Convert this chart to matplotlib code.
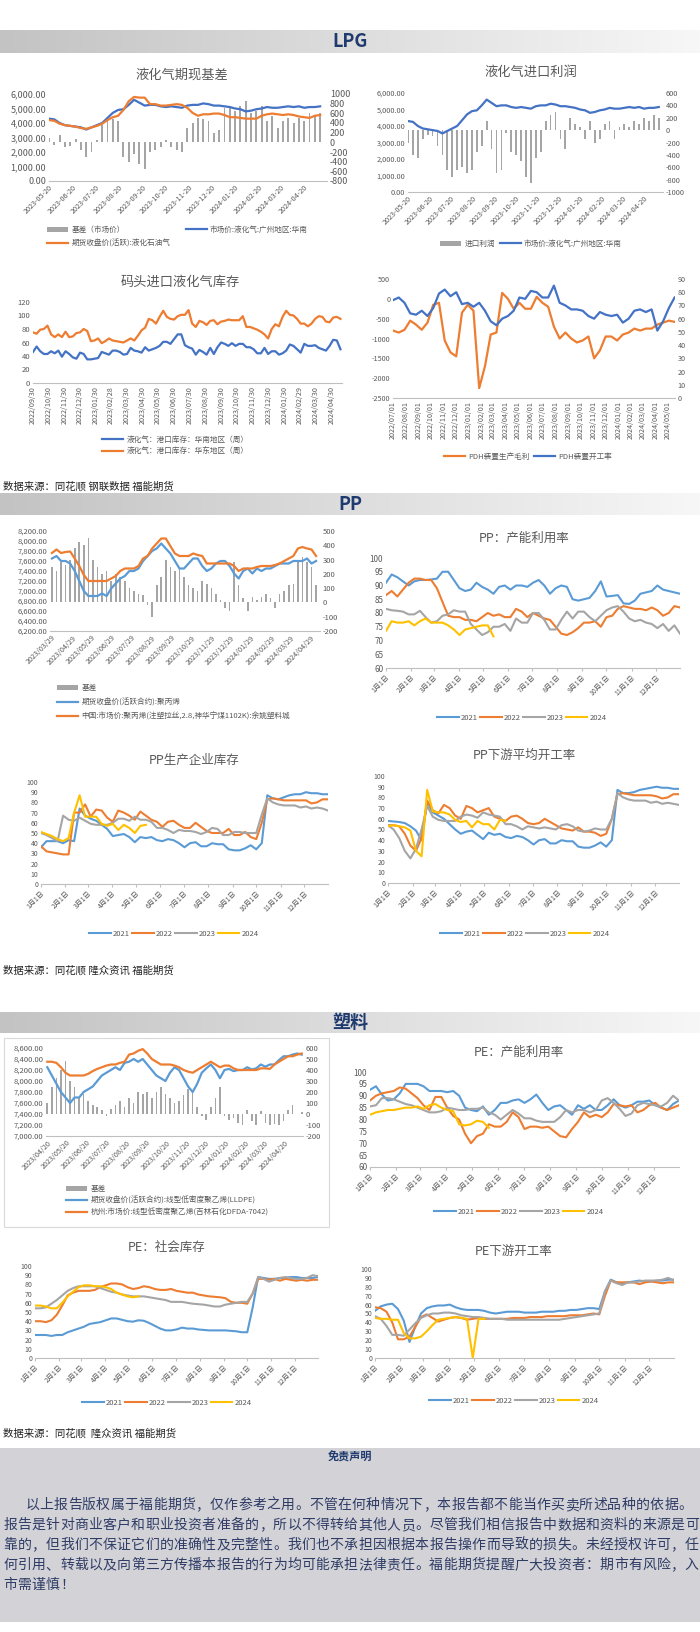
import numpy as np
import pandas as pd
import matplotlib
matplotlib.use('Agg')
import matplotlib.pyplot as plt
from matplotlib.colors import LinearSegmentedColormap
from matplotlib.patches import Rectangle
from matplotlib.ticker import FuncFormatter

plt.rcParams['font.family'] = ['Noto Sans CJK SC', 'DejaVu Sans']
plt.rcParams['axes.unicode_minus'] = False
plt.rcParams['axes.facecolor'] = 'none'

# ====== 数据 ======
# LPG 期现基差 / 进口利润 (周度, 2023-05-20 起)
lpg_spot = [4300, 4250, 4000, 3850, 3800, 3750, 3700, 3550, 3700, 3850, 4000, 4350, 4700, 4900, 4950, 5250,
            5600, 5400, 5200, 5250, 5250, 5150, 5100, 5150, 5100, 5050, 5200, 5250, 5250, 5350, 5300, 5200,
            5200, 5150, 5100, 5000, 4950, 4800, 4850, 4950, 5000, 5100, 5050, 5050, 5100, 5150, 5100, 5150,
            5050, 5100, 5100, 5150]
lpg_fut = [4200, 4150, 3950, 3850, 3800, 3750, 3650, 3600, 3700, 3800, 3950, 4200, 4400, 4500, 4900, 5500,
           5800, 5750, 5750, 5300, 5300, 5200, 5200, 5250, 5300, 5250, 5050, 4700, 4500, 4600, 4600, 4650,
           4650, 4550, 4400, 4400, 4350, 4300, 4300, 4300, 4500, 4600, 4650, 4600, 4550, 4600, 4550, 4450,
           4400, 4350, 4500, 4550]
lpg_basis = [80, -60, 150, -100, -80, 60, -150, -300, -200, 50, 350, 450, 480, 450, -300, -400, -250, -450,
             -550, -200, -150, -100, 50, -100, -150, -200, 300, 400, 500, 480, 450, 200, 250, 700, 700, 650,
             750, 850, 600, 650, 750, 450, 550, 300, 450, 500, 400, 500, 450, 600, 550, 600]
lpg_profit = [-200, -400, -450, -150, -80, -100, -250, -400, -650, -750, -650, -600, -700, -650, -350, -250,
              150, -300, -700, -650, -50, -350, -400, -500, -750, -850, -450, -350, 150, 250, 300, -150, -300,
              200, 100, 50, -150, 150, -200, -150, 100, 150, -150, 50, 100, 50, 150, 100, 200, 150, 250, 200]

# 码头库存 (周度, 2022-09-30 起)
lpg_inv_south = [46, 54, 47, 43, 43, 47, 44, 48, 39, 47, 43, 38, 36, 45, 43, 35, 35, 36, 37, 46,
                 44, 42, 48, 48, 46, 42, 43, 52, 48, 47, 45, 53, 48, 50, 52, 55, 61, 61, 58, 65,
                 72, 72, 56, 53, 51, 42, 49, 46, 42, 52, 43, 53, 60, 58, 55, 59, 55, 58, 58, 53,
                 53, 50, 44, 44, 52, 43, 47, 47, 42, 44, 48, 57, 55, 50, 45, 58, 55, 55, 56, 52,
                 50, 48, 55, 64, 63, 50]
lpg_inv_east = [75, 73, 79, 80, 85, 72, 68, 72, 68, 76, 68, 69, 74, 75, 80, 77, 62, 63, 66, 59,
                62, 66, 63, 62, 61, 60, 63, 66, 63, 70, 78, 82, 95, 93, 88, 98, 107, 98, 95, 94,
                99, 101, 101, 108, 88, 83, 92, 90, 86, 92, 93, 87, 91, 92, 94, 93, 93, 93, 99, 83,
                83, 81, 79, 76, 72, 66, 80, 87, 84, 98, 107, 101, 100, 95, 88, 88, 84, 88, 95, 99,
                98, 91, 90, 97, 98, 95]

# PDH (双周, 2022-07-01 起)
pdh_margin = [-800, -850, -780, -550, -650, -780, -600, -150, -100, -1050, -1350, -1450, -350, -150, -300,
              -2250, -1700, -900, -850, 150, 0, -250, -100, -250, -250, 50, -100, -200, -700, -1000,
              -850, -1000, -1100, -1050, -950, -1500, -1300, -950, -950, -1050, -900, -850, -750, -800,
              -750, -750, -650, -600, -550, -580]
pdh_rate = [74, 76, 72, 64, 63, 66, 62, 68, 79, 82, 77, 80, 71, 72, 69, 72, 66, 58, 55, 60,
            62, 66, 76, 75, 81, 80, 76, 76, 85, 72, 70, 67, 67, 66, 62, 60, 65, 63, 62, 63,
            57, 60, 66, 67, 65, 67, 51, 58, 68, 76]

# PP 基差 (周度, 2023-03-29 起)
pp_spot = [7760, 7830, 7760, 7780, 7790, 7650, 7500, 7320, 7200, 7200, 7200, 7200, 7200, 7250, 7300,
           7400, 7450, 7450, 7450, 7500, 7650, 7700, 7850, 7950, 8050, 8050, 7900, 7750, 7700, 7700,
           7700, 7750, 7720, 7700, 7550, 7550, 7550, 7550, 7550, 7550, 7500, 7400, 7450, 7450, 7450,
           7480, 7500, 7500, 7500, 7520, 7550, 7600, 7650, 7700, 7850, 7880, 7850, 7830, 7700]
pp_fut = [7650, 7700, 7600, 7600, 7550, 7400, 7200, 7000, 6900, 6900, 6900, 6950, 6900, 7050, 7150,
          7250, 7300, 7400, 7400, 7450, 7600, 7700, 7800, 7850, 7950, 7850, 7750, 7600, 7450, 7450,
          7550, 7650, 7650, 7500, 7400, 7450, 7550, 7600, 7600, 7500, 7350, 7250, 7400, 7450, 7350,
          7450, 7400, 7450, 7450, 7500, 7550, 7550, 7550, 7600, 7600, 7600, 7650, 7550, 7600]
pp_basis = [250, 220, 280, 260, 300, 380, 420, 400, 450, 300, 250, 200, 220, 150, 200, 180, 150, 100,
            80, 60, 50, -20, -100, 120, 180, 300, 250, 220, 250, 180, 120, 100, 80, 150, 130, 100, 60,
            20, -40, -60, 280, 120, 30, -60, 40, 20, 40, 60, 30, -40, 60, 80, 120, 130, 300, 320, 280,
            250, 120]

# 季节性图 (周度)
years = ['2021', '2022', '2023', '2024']
pp_util = [
    [91, 94, 93, 91.5, 90, 91.5, 92, 92, 92.2, 92.5, 95, 95, 92, 89, 88, 88.5, 91, 89.5, 88.5, 87,
     89.5, 90, 88.5, 90, 90, 89.5, 91, 92, 90, 87, 89, 90, 89.5, 85, 84.5, 85, 85.5, 88, 91.5, 86,
     86.2, 86.5, 83.5, 83.3, 84.5, 87, 87.5, 88, 90, 88.5, 88, 87.5, 87],
    [86.5, 88, 86, 88.5, 91, 92.5, 92.5, 92, 92, 89, 84, 79, 78.5, 78.5, 77.5, 77.5, 77, 78.5, 80, 79,
     79.5, 78.5, 78.5, 81.5, 80.5, 78.5, 80, 79, 78, 77.5, 75, 72.5, 72, 73, 74.5, 76.5, 76.5, 77, 75,
     78.5, 79, 81.5, 82.5, 82, 81.5, 81.5, 81, 82, 81, 79, 80, 82.5, 82],
    [81.5, 81, 80.8, 80.5, 79.5, 79.5, 80.8, 78.5, 76.5, 77, 79, 79.5, 81, 80.5, 80.5, 76, 74, 72, 73,
     75, 75, 76, 73.5, 78, 76.5, 76.5, 80, 80, 77.5, 74, 74, 77.5, 80.5, 78, 80.5, 80.5, 78.5, 77, 79,
     81, 82, 82.5, 80.5, 78, 77, 77.5, 76.5, 76, 74.5, 76, 73.5, 75.5, 72.5],
    [73.5, 77, 76.5, 76.5, 77, 75.5, 77, 78, 76.5, 76.5, 76.5, 75.5, 74, 72, 74, 74.5, 75, 75.5, 75.5,
     71.5]]
pp_inv = [
    [36, 42, 42, 42, 40, 43, 42, 74, 67, 64, 62, 58, 54, 47, 48, 49, 46, 41, 46, 45, 46, 43, 42, 44, 43,
     40, 36, 40, 41, 37, 37, 40, 39, 39, 34, 33, 33, 35, 38, 34, 40, 87, 84, 83, 85, 87, 88, 88, 90, 89,
     89, 88, 88],
    [37, 32, 31, 30, 29, 29, 70, 70, 78, 66, 73, 72, 65, 61, 72, 70, 67, 63, 71, 67, 63, 61, 56, 61, 62,
     58, 55, 55, 60, 56, 52, 50, 50, 50, 54, 48, 48, 51, 46, 44, 60, 83, 84, 83, 82, 82, 82, 82, 82, 79,
     80, 83, 83],
    [50, 48, 45, 42, 67, 63, 62, 65, 62, 59, 58, 58, 58, 60, 64, 64, 62, 66, 63, 63, 61, 55, 55, 53, 50,
     53, 52, 52, 51, 49, 51, 55, 54, 48, 48, 51, 51, 50, 50, 50, 68, 84, 80, 78, 77, 77, 77, 75, 76, 74,
     75, 74, 72],
    [51, 49, 47, 44, 42, 45, 70, 87, 66, 66, 66, 59, 57, 59, 53, 58, 55, 50, 57, 58]]
pp_run = [
    [58, 57.5, 57, 56, 53, 49, 40, 76, 66, 63, 60, 55, 50, 46, 48, 49, 45, 41, 47, 45, 46, 43, 42, 44, 43,
     40, 36, 40, 41, 37, 37, 40, 39, 39, 34, 33, 33, 35, 38, 34, 40, 87, 84, 84, 85, 87, 88, 89, 90, 89,
     89, 88, 88],
    [54, 54, 53, 46, 35, 30, 42, 77, 68, 65, 73, 70, 63, 60, 72, 70, 66, 68, 70, 62, 60, 58, 62, 63, 60,
     56, 55, 56, 60, 57, 54, 51, 50, 49, 52, 48, 48, 47, 44, 46, 60, 83, 84, 83, 82, 82, 82, 82, 81, 79,
     80, 83, 83],
    [54, 50, 42, 30, 23, 32, 50, 72, 62, 59, 58, 58, 58, 62, 64, 63, 61, 66, 64, 63, 62, 55, 55, 53, 50,
     53, 52, 51, 52, 51, 50, 54, 55, 53, 49, 48, 49, 51, 50, 50, 60, 84, 80, 78, 77, 77, 77, 75, 76, 74,
     75, 74, 73],
    [53, 54, 53, 52, 49, 30, 25, 87, 67, 66, 66, 64, 59, 57, 58, 52, 58, 55, 55, 50, 59, 58]]

# PE 基差 (周度, 2023-04-20 起)
pe_spot = [8350, 8350, 8330, 8250, 8150, 8100, 8100, 8100, 8100, 8130, 8180, 8220, 8250, 8280, 8300,
           8300, 8330, 8350, 8480, 8500, 8550, 8580, 8500, 8400, 8350, 8300, 8300, 8300, 8280, 8250,
           8200, 8170, 8150, 8200, 8250, 8300, 8350, 8300, 8250, 8280, 8280, 8230, 8200, 8200, 8200,
           8200, 8200, 8230, 8230, 8220, 8300, 8350, 8400, 8450, 8450, 8480, 8500]
pe_fut = [8250, 8100, 7950, 7800, 7700, 7600, 7700, 7700, 7800, 7850, 7900, 8000, 8100, 8150, 8200,
          8250, 8200, 8330, 8350, 8400, 8350, 8400, 8300, 8200, 8100, 8050, 8000, 8150, 8250, 8200,
          8050, 7900, 7800, 7950, 8150, 8230, 8300, 8200, 8050, 8200, 8220, 8180, 8200, 8200, 8250,
          8210, 8230, 8300, 8260, 8300, 8300, 8380, 8450, 8450, 8480, 8500, 8480]
pe_basis = [100, 250, 330, 400, 480, 300, 250, 150, 180, 120, 80, 60, 40, -20, 50, 80, 120, 60, 150, 100,
            200, 180, 200, 150, 200, 250, 180, 150, 100, 120, 170, 230, 220, 60, -20, -50, 60, 150, 250,
            -20, -50, -40, -80, -100, 40, -60, -100, 30, -80, -100, -90, -100, -60, 40, 80, 0, 20]

pe_util = [
    [92.5, 94, 90.5, 88, 88.5, 91, 95, 95, 95, 94, 92, 92, 92, 91.5, 92, 90, 85, 84, 83.5, 85.5, 82, 84,
     87, 87, 88, 88.5, 87, 88.5, 90.5, 87, 84, 85.5, 86, 84, 82, 86, 84.5, 86, 84, 84, 86, 88.5, 86, 85,
     86, 87.5, 87.5, 88, 86, 85, 84, 86.5, 88],
    [88, 90, 91, 91.5, 92, 93.5, 93, 91, 89, 86, 84, 89.5, 89.5, 85, 81.5, 80, 74, 70, 73, 74, 78, 77,
     77, 79, 83, 81, 76, 77, 77, 76.5, 77, 75, 73, 72.5, 76, 79, 83, 81, 82, 81, 83, 86.5, 86, 85.5, 86,
     83, 84, 86, 87, 85, 84, 85, 86],
    [85.5, 86, 89, 89, 88.5, 87.5, 86.5, 86, 85, 84, 83, 83, 83.5, 85, 84.5, 84, 84, 84.5, 84.5, 85, 83,
     82, 80, 82, 84, 82.5, 80.5, 80.5, 79.5, 79, 79, 79, 81, 84, 83, 84, 84, 83, 84, 88, 89, 87, 84.5,
     81.5, 82.5, 86, 87, 86.5, 86, 85.5, 87, 90, 88],
    [82, 83, 83.5, 84, 84, 84.5, 85, 85, 85.5, 84.5, 86, 86.5, 85, 84, 83.5, 78, 77.5, 78, 79.5, 79,
     76.5]]
pe_inv = [
    [25, 25, 25, 24, 25, 25, 28, 30, 32, 34, 37, 38, 39, 41, 43, 43, 41.5, 40, 39.5, 41, 40.5, 38, 35,
     32, 30, 30, 31, 33, 32, 32, 31, 30.5, 30, 30, 30, 30, 29.5, 29, 28, 28, 55, 88, 87, 86, 86, 87, 87,
     88, 88, 87, 87, 87, 88],
    [40, 40, 39, 41, 47, 57, 68, 71, 73, 73, 73, 74, 77, 79, 81, 81, 80, 77, 75, 76, 78, 77, 75, 74, 74,
     75, 73, 72, 71, 71, 69, 68, 67, 66.5, 66, 65, 61, 60, 60, 59, 70, 86, 86, 85, 86, 84, 86, 85, 84,
     85, 84, 85, 85],
    [54, 54, 55, 59, 63, 68, 73, 76, 78, 78, 78, 78, 76, 74, 72, 71, 69, 68, 67, 67, 67, 66, 65, 64, 63,
     61, 61, 61, 60, 59, 58.5, 58, 57, 56, 56, 58, 59, 60, 61, 61, 70, 88, 86, 83, 85, 87, 88, 87, 86,
     86, 87, 90, 89],
    [57, 57, 56, 54, 54, 60, 67, 72, 77, 79, 79, 78, 78, 77, 75, 71, 69, 67, 66, 67]]
pe_run = [
    [53, 58, 60, 61, 55, 42, 18, 35, 50, 56, 58, 59, 59, 60, 57, 55, 54, 54, 54, 53, 51, 50, 51, 52, 52,
     52, 51, 51, 51, 52, 52, 52, 53, 53, 54, 54, 55, 56, 56, 55, 75, 88, 85, 84, 85, 86, 87, 86, 86, 87,
     87, 88, 88],
    [57, 56, 52, 40, 21, 21, 24, 35, 46, 49, 45, 41, 43, 45, 46, 45, 43, 44, 45, 44, 44, 44, 44, 44, 45,
     45, 45, 46, 46, 46, 47, 47, 47, 47, 48, 48, 48, 49, 50, 49, 70, 87, 85, 85, 85, 85, 83, 85, 86, 85,
     84, 85, 85],
    [47, 44, 36, 26, 26, 25, 32, 39, 45, 48, 50, 50, 51, 51, 50, 48, 47, 46, 46, 45, 44, 44, 44, 43, 43,
     43, 43, 43, 43, 43, 43, 43, 43, 44, 45, 46, 47, 48, 49, 50, 75, 87, 84, 82, 85, 85, 86, 87, 87, 87,
     88, 90, 87],
    [45, 44, 44, 43, 43, 28, 22, 22, 24, 30, 37, 43, 44, 45, 46, 45, 44, 0, 44, 44]]

month_days = [0, 31, 59, 90, 120, 151, 181, 212, 243, 273, 304, 334]
month_labels = [f'{m}月1日' for m in range(1, 13)]

disclaimer = ['以上报告版权属于福能期货，仅作参考之用。不管在何种情况下，本报告都不能当作买卖所述品种的依据。',
              '报告是针对商业客户和职业投资者准备的，所以不得转给其他人员。尽管我们相信报告中数据和资料的来源是可',
              '靠的，但我们不保证它们的准确性及完整性。我们也不承担因根据本报告操作而导致的损失。未经授权许可，任',
              '何引用、转载以及向第三方传播本报告的行为均可能承担法律责任。福能期货提醒广大投资者：期市有风险，入',
              '市需谨慎！']

# ====== 样式 ======
BLUE = '#4472C4'
LBLUE = '#5B9BD5'
ORANGE = '#ED7D31'
GRAY = '#A5A5A5'
YELLOW = '#FFC000'
TXT = '#595959'
NAVY = '#1F3A6E'
year_colors = [LBLUE, ORANGE, GRAY, YELLOW]

W, H = 700, 1632
fig = plt.figure(figsize=(7, 16.32), dpi=100)
bg = fig.add_axes([0, 0, 1, 1])
bg.set_zorder(-5)
bg.axis('off')


def px(l, t, r, b):
    return [l / W, 1 - b / H, (r - l) / W, (b - t) / H]


def clean(ax, bottom=True, size=5):
    for s in ax.spines.values():
        s.set_visible(False)
    if bottom:
        ax.spines['bottom'].set_visible(True)
        ax.spines['bottom'].set_color('#BFBFBF')
        ax.spines['bottom'].set_linewidth(0.8)
    ax.tick_params(length=0, labelsize=size, colors=TXT, pad=2)


def title(x, y, s, size=9.5):
    bg.text(x, y, s, ha='center', va='center', fontsize=size, color=TXT)


def legend(handles, labels, x, y, loc='center', ncol=1, **kw):
    opts = dict(frameon=False, fontsize=5.5, labelcolor=TXT, handlelength=2.8, handletextpad=0.4,
                columnspacing=0.8, borderpad=0, borderaxespad=0)
    opts.update(kw)
    fig.legend(handles, labels, loc=loc, bbox_to_anchor=(x / W, 1 - y / H), ncol=ncol, **opts)


def header(y0, y1, label):
    grad = np.linspace(0, 1, 256).reshape(1, -1)
    cmap = LinearSegmentedColormap.from_list('hdr', ['#C3C3C3', '#F7F7F7'])
    bg.imshow(grad, cmap=cmap, extent=(0, W, y1, y0), aspect='auto')
    bg.text(350, (y0 + y1) / 2, label, ha='center', va='center', fontsize=13,
            fontweight='bold', color=NAVY)


def date_ticks(ax, start, n, fmt, rot, size=5.2):
    ticks = [pd.Timestamp(start) + pd.DateOffset(months=i) for i in range(n)]
    ax.set_xticks(ticks)
    if rot == 90:
        ax.set_xticklabels([t.strftime(fmt) for t in ticks], rotation=90, ha='center', va='top',
                           fontsize=size)
    else:
        ax.set_xticklabels([t.strftime(fmt) for t in ticks], rotation=45, ha='right',
                           rotation_mode='anchor', fontsize=size)


money = FuncFormatter(lambda v, p: f'{v:,.2f}')


def seasonal(rect, data, ylim, step, ttl, tpos, lpos, size=5):
    ax = fig.add_axes(px(*rect))
    clean(ax, size=size)
    lines = []
    for vals, c in zip(data, year_colors):
        ln, = ax.plot(np.arange(len(vals)) * 7, vals, color=c, lw=1.5)
        lines.append(ln)
    ax.set_xlim(0, 364)
    ax.set_ylim(*ylim)
    ax.set_yticks(np.arange(ylim[0], ylim[1] + 0.1, step))
    ax.set_xticks(month_days)
    ax.set_xticklabels(month_labels, rotation=45, ha='right', rotation_mode='anchor', fontsize=5)
    ax.tick_params(axis='x', length=2.5, color='#BFBFBF', pad=1.5)
    title(tpos[0], tpos[1], ttl, 9)
    legend(lines, years, lpos[0], lpos[1], ncol=4, columnspacing=0.3, handletextpad=0.3)
    return ax


# ====== LPG ======
header(30, 53, 'LPG')

d1 = pd.date_range('2023-05-20', periods=len(lpg_spot), freq='7D')
ax1 = fig.add_axes(px(49, 94, 327, 181))
ax1r = ax1.twinx()
b1 = ax1r.bar(d1, lpg_basis, width=2.5, color=GRAY)
l1b, = ax1.plot(d1, lpg_spot, color=BLUE, lw=1.6)
l1o, = ax1.plot(d1, lpg_fut, color=ORANGE, lw=1.6)
ax1.set_zorder(ax1r.get_zorder() + 1)
ax1.set_ylim(0, 6000)
ax1.set_yticks(range(0, 6001, 1000))
ax1.yaxis.set_major_formatter(money)
ax1r.set_ylim(-800, 1000)
ax1r.set_yticks(range(-800, 1001, 200))
ax1.set_xlim(pd.Timestamp('2023-05-20'), pd.Timestamp('2024-05-20'))
clean(ax1, size=6.5)
clean(ax1r, bottom=False, size=6.5)
date_ticks(ax1, '2023-05-20', 12, '%Y-%m-%d', 45)
title(182, 75, '液化气期现基差')
legend([b1, l1o, l1b], ['基差（市场价）', '期货收盘价(活跃):液化石油气', '市场价:液化气:广州地区:华南'],
       47, 226, loc='upper left', ncol=2, labelspacing=0.7, columnspacing=2.0)

ax2 = fig.add_axes(px(408, 93, 663, 192))
ax2r = ax2.twinx()
b2 = ax2r.bar(d1, lpg_profit, width=2.5, color=GRAY)
l2b, = ax2.plot(d1, lpg_spot, color=BLUE, lw=1.6)
ax2.set_zorder(ax2r.get_zorder() + 1)
ax2.set_ylim(0, 6000)
ax2.set_yticks(range(0, 6001, 1000))
ax2.yaxis.set_major_formatter(money)
ax2r.set_ylim(-1000, 600)
ax2r.set_yticks(range(-1000, 601, 200))
ax2.set_xlim(pd.Timestamp('2023-05-20'), pd.Timestamp('2024-05-17'))
clean(ax2, size=5.3)
clean(ax2r, bottom=False, size=5.3)
date_ticks(ax2, '2023-05-20', 12, '%Y-%m-%d', 45)
title(531, 72, '液化气进口利润')
legend([b2, l2b], ['进口利润', '市场价:液化气:广州地区:华南'], 531, 244, ncol=2, columnspacing=0.6)

d3 = pd.date_range('2022-09-30', periods=len(lpg_inv_east), freq='7D')
ax3 = fig.add_axes(px(33, 302, 342, 383))
l3s, = ax3.plot(d3, lpg_inv_south, color=BLUE, lw=1.6)
l3e, = ax3.plot(d3, lpg_inv_east, color=ORANGE, lw=1.6)
ax3.set_ylim(0, 120)
ax3.set_yticks(range(0, 121, 20))
ax3.set_xlim(pd.Timestamp('2022-09-30'), pd.Timestamp('2024-05-20'))
clean(ax3, size=5.5)
date_ticks(ax3, '2022-09-30', 20, '%Y/%m/%d', 90)
title(180, 282, '码头进口液化气库存')
legend([l3s, l3e], ['液化气：港口库存：华南地区（周）', '液化气：港口库存：华东地区（周）'],
       102, 436, loc='upper left', labelspacing=0.45)

d4 = pd.date_range('2022-07-01', periods=len(pdh_margin), freq='14D')
ax4 = fig.add_axes(px(393, 279, 675, 398))
ax4r = ax4.twinx()
l4o, = ax4.plot(d4, pdh_margin, color=ORANGE, lw=1.6)
l4b, = ax4r.plot(d4, pdh_rate, color=BLUE, lw=1.6)
ax4.set_ylim(-2500, 500)
ax4.set_yticks(range(-2500, 501, 500))
ax4r.set_ylim(0, 90)
ax4r.set_yticks(range(0, 91, 10))
ax4.set_xlim(pd.Timestamp('2022-07-01'), pd.Timestamp('2024-05-18'))
clean(ax4, size=5.2)
clean(ax4r, bottom=False, size=5.2)
date_ticks(ax4, '2022-07-01', 23, '%Y/%m/%d', 90)
legend([l4o, l4b], ['PDH装置生产毛利', 'PDH装置开工率'], 528, 457, ncol=2, columnspacing=0.6)

bg.text(3, 486, '数据来源：同花顺 钢联数据 福能期货', ha='left', va='center', fontsize=7.5, color='#222222')

# ====== PP ======
header(493, 515, 'PP')

d5 = pd.date_range('2023-03-29', periods=len(pp_spot), freq='7D')
ax5 = fig.add_axes(px(50, 531, 320, 631))
ax5r = ax5.twinx()
b5 = ax5r.bar(d5, pp_basis, width=2.5, color=GRAY)
l5b, = ax5.plot(d5, pp_fut, color=LBLUE, lw=1.6)
l5o, = ax5.plot(d5, pp_spot, color=ORANGE, lw=1.6)
ax5.set_zorder(ax5r.get_zorder() + 1)
ax5.set_ylim(6200, 8200)
ax5.set_yticks(range(6200, 8201, 200))
ax5.yaxis.set_major_formatter(money)
ax5r.set_ylim(-200, 500)
ax5r.set_yticks(range(-200, 501, 100))
ax5.set_xlim(pd.Timestamp('2023-03-26'), pd.Timestamp('2024-05-14'))
clean(ax5, size=5.5)
clean(ax5r, bottom=False, size=5.5)
date_ticks(ax5, '2023-03-29', 14, '%Y/%m/%d', 45)
legend([b5, l5b, l5o], ['基差', '期货收盘价(活跃合约):聚丙烯',
                        '中国:市场价:聚丙烯(注塑拉丝,2.8,神华宁煤1102K):余姚塑料城'],
       57, 684, loc='upper left', labelspacing=0.8)

seasonal((386, 558, 680, 668), pp_util, (60, 100), 5, 'PP：产能利用率', (524, 538), (522, 718), 5.8)
seasonal((41, 782, 328, 884), pp_inv, (0, 100), 10, 'PP生产企业库存', (194, 760), (174, 934))
seasonal((388, 776, 679, 883), pp_run, (0, 100), 10, 'PP下游平均开工率', (524, 755), (525, 934))

bg.text(3, 970, '数据来源：同花顺 隆众资讯 福能期货', ha='left', va='center', fontsize=7.5, color='#222222')

# ====== 塑料 ======
header(1012, 1033, '塑料')

bg.add_patch(Rectangle((4, 1038), 325, 189, fill=False, edgecolor='#D9D9D9', lw=0.8))
d9 = pd.date_range('2023-04-20', periods=len(pe_spot), freq='7D')
ax9 = fig.add_axes(px(46, 1048, 303, 1136))
ax9r = ax9.twinx()
b9 = ax9r.bar(d9, pe_basis, width=2.5, color=GRAY)
l9b, = ax9.plot(d9, pe_fut, color=LBLUE, lw=1.6)
l9o, = ax9.plot(d9, pe_spot, color=ORANGE, lw=1.6)
ax9.set_zorder(ax9r.get_zorder() + 1)
ax9.set_ylim(7000, 8600)
ax9.set_yticks(range(7000, 8601, 200))
ax9.yaxis.set_major_formatter(money)
ax9r.set_ylim(-200, 600)
ax9r.set_yticks(range(-200, 601, 100))
ax9.set_xlim(pd.Timestamp('2023-04-18'), pd.Timestamp('2024-05-18'))
clean(ax9, size=5.5)
clean(ax9r, bottom=False, size=5.5)
date_ticks(ax9, '2023-04-20', 13, '%Y/%m/%d', 45)
legend([b9, l9b, l9o], ['基差', '期货收盘价(活跃合约):线型低密度聚乙烯(LLDPE)',
                        '杭州:市场价:线型低密度聚乙烯(吉林石化DFDA-7042)'],
       66, 1185, loc='upper left', labelspacing=0.5)

seasonal((370, 1072, 679, 1167), pe_util, (60, 100), 5, 'PE：产能利用率', (519, 1052), (519, 1212), 5.8)
seasonal((35, 1266, 318, 1358), pe_inv, (0, 100), 10, 'PE：社会库存', (167, 1247), (167, 1403))
seasonal((375, 1269, 674, 1358), pe_run, (0, 100), 10, 'PE下游开工率', (514, 1251), (514, 1401))

bg.text(3, 1433, '数据来源：同花顺  隆众资讯 福能期货', ha='left', va='center', fontsize=7.5, color='#222222')

# ====== 免责声明 ======
bg.add_patch(Rectangle((0, 1448), 700, 174, facecolor='#D3D3D7', edgecolor='none'))
bg.text(350, 1457, '免责声明', ha='center', va='center', fontsize=8, fontweight='bold', color=NAVY)
starts = [25, 3, 3, 3, 3]
step = 14.2
for row, (line, x0) in enumerate(zip(disclaimer, starts)):
    for i, ch in enumerate(line):
        bg.text(x0 + (i + 0.5) * step, 1505 + row * 20, ch, ha='center', va='center',
                fontsize=10, color='#2F3C66')

bg.set_xlim(0, W)
bg.set_ylim(H, 0)
fig.savefig('out.png', dpi=100)
